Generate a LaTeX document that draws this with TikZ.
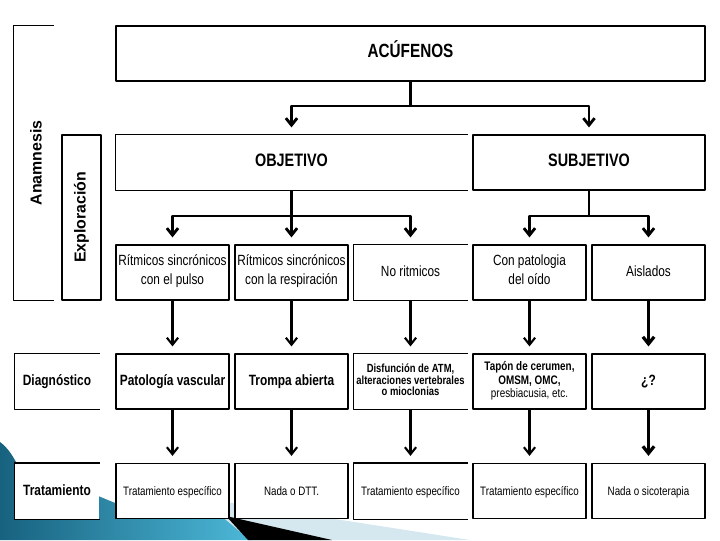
\documentclass[tikz,border=0pt]{standalone}
\usepackage{fontspec}
\setmainfont{Liberation Sans}[FakeStretch=0.8]
\newfontfamily\plainfont{Liberation Sans}
\usetikzlibrary{arrows.meta}
\definecolor{tealdark}{HTML}{17627F}
\definecolor{teallight}{HTML}{4DB8D8}
\definecolor{palesky}{HTML}{D5E8EF}
\def\px{0.025cm}
\begin{document}
\begin{tikzpicture}[x=0.025cm,y=-0.025cm,>={Straight Barb[length=5pt,width=8pt]},line join=round,
  box/.style={draw,fill=white,line width=0.8pt,minimum width=113*\px,minimum height=55*\px,inner sep=1pt,align=center},
  openbox/.style={box,draw=none},
  one/.style={text height=1.6ex,text depth=0.45ex},
  conn/.style={line width=2pt,shorten >=5pt},
  head/.style={font=\bfseries\fontsize{12.8}{14}\selectfont},
  rhythm/.style={font=\fontsize{10.5}{13.5}\selectfont},
  diagn/.style={font=\bfseries\fontsize{10.6}{12}\selectfont},
  small/.style={font=\bfseries\fontsize{8.4}{8.4}\selectfont},
  treat/.style={font=\fontsize{8.7}{10}\selectfont},
  side/.style={font=\plainfont\bfseries\fontsize{11.3}{13}\selectfont}]
\useasboundingbox (0,0) rectangle (720,540);
% adorno inferior
\shade[left color=tealdark,right color=teallight] (0,442) .. controls (8,448) and (12,455) .. (16,462) -- (120,505) -- (232,517) -- (252,540) -- (0,540) -- cycle;
\fill[palesky] (200,498) -- (470,540) -- (250,540) -- cycle;
\fill[black] (226,516) -- (332,540) -- (248,540) -- cycle;
% columnas laterales
\node[openbox,minimum width=39*\px,minimum height=274*\px] (anam) at (33.5,163) {};
\node[side,rotate=90] (anamtxt) at (36,163) {Anamnesis};
\node[box,side,rotate=90,minimum width=165*\px,minimum height=39*\px] (expl) at (81.5,217.5) {Exploración};
\node[openbox,diagn,one,minimum width=84*\px] (diag) at (57,381.5) {Diagnóstico};
\node[openbox,diagn,one,minimum width=84*\px] (trat) at (57,491) {Tratamiento};
% cajas
\node[box,one,font=\bfseries\fontsize{13.6}{15}\selectfont,minimum width=589*\px] (acu) at (410.5,53.5) {ACÚFENOS};
\node[openbox,head,one,minimum width=351*\px] (obj) at (291.5,162.5) {OBJETIVO};
\node[box,head,one,minimum width=232*\px] (sub) at (589,162.5) {SUBJETIVO};
\node[box,rhythm] (r1a) at (172.5,272.5) {Rítmicos sincrónicos\\con el pulso\strut};
\node[box,rhythm] (r1b) at (291.5,272.5) {Rítmicos sincrónicos\\con la respiración\strut};
\node[openbox,rhythm,one] (r1c) at (410.5,272.5) {No ritmicos};
\node[box,rhythm] (r1d) at (529.5,272.5) {Con patologia\\del oído\strut};
\node[box,rhythm,one] (r1e) at (648.5,272.5) {Aislados};
\node[box,diagn,one] (r2a) at (172.5,381.5) {Patología vascular};
\node[box,diagn,one] (r2b) at (291.5,381.5) {Trompa abierta};
\node[openbox,small] (r2c) at (410.5,381.5) {Disfunción de ATM,\\alteraciones vertebrales\\o mioclonias\strut};
\node[box,small,font=\bfseries\fontsize{8.8}{9.4}\selectfont] (r2d) at (529.5,381.5) {Tapón de cerumen,\\OMSM, OMC,\\\mdseries presbiacusia, etc.\strut};
\node[box,diagn,one] (r2e) at (648.5,381.5) {¿?};
\node[box,treat,one] (r3a) at (172.5,491) {Tratamiento específico};
\node[box,treat,one] (r3b) at (291.5,491) {Nada o DTT.};
\node[openbox,treat,one] (r3c) at (410.5,491) {Tratamiento específico};
\node[box,treat,one] (r3d) at (529.5,491) {Tratamiento específico};
\node[box,treat,one] (r3e) at (648.5,491) {Nada o sicoterapia};
\foreach \n in {anam,diag,trat,obj,r1c,r2c,r3c}
  \draw[line width=0.8pt] (\n.north east) -- (\n.north west) -- (\n.south west) -- (\n.south east);
% conexiones
\coordinate (s1) at (410.5,106);
\coordinate (s2) at (291.5,216);
\coordinate (s3) at (589,216);
\draw[conn,->] (acu.south) -- (s1) -| (obj.north);
\draw[conn,->] (s1) -| (sub.north);
\draw[conn,->] (obj.south) -- (s2) -| (r1a.north);
\draw[conn,->] (s2) -- (r1b.north);
\draw[conn,->] (s2) -| (r1c.north);
\draw[conn,->] (sub.south) -- (s3) -| (r1d.north);
\draw[conn,->] (s3) -| (r1e.north);
\foreach \c/\w in {a/1.5,b/1.5,c/1.5,d/1.5,e/2.3}{
  \draw[conn,->,line width=\w pt] (r1\c) -- (r2\c);
  \draw[conn,->,line width=\w pt] (r2\c) -- (r3\c);}
\end{tikzpicture}
\end{document}
